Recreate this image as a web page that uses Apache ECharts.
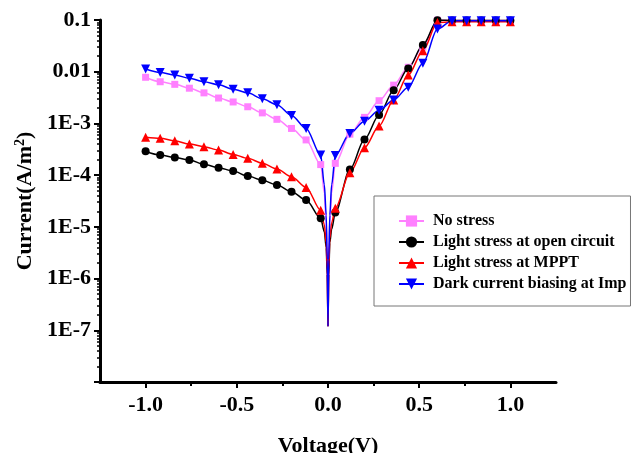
<!DOCTYPE html>
<html>
<head>
<meta charset="utf-8">
<script src="https://cdn.jsdelivr.net/npm/echarts@6/dist/echarts.min.js"></script>
<style>
html,body{margin:0;padding:0;background:#fff;}
#chart{width:632px;height:453px;}
</style>
</head>
<body>
<div id="chart"></div>
<script>
// Voltage grid of measured points (V)
var voltage = [-1.00,-0.92,-0.84,-0.76,-0.68,-0.60,-0.52,-0.44,-0.36,-0.28,-0.20,-0.12,-0.04,
               0.04,0.12,0.20,0.28,0.36,0.44,0.52,0.60,0.68,0.76,0.84,0.92,1.00];
// Currents (A/m^2)
var noStress    = [7.8e-3,6.4e-3,5.7e-3,4.8e-3,3.9e-3,3.1e-3,2.6e-3,2.1e-3,1.6e-3,1.2e-3,8.0e-4,4.8e-4,1.6e-4,
                   1.69e-4,6.2e-4,1.31e-3,2.75e-3,5.5e-3,1.22e-2,3.0e-2,0.099,0.098,0.098,0.098,0.098,0.098];
var openCircuit = [2.9e-4,2.45e-4,2.2e-4,1.96e-4,1.62e-4,1.39e-4,1.2e-4,9.6e-5,8.0e-5,6.45e-5,4.8e-5,3.3e-5,1.46e-5,
                   1.9e-5,1.29e-4,4.9e-4,1.46e-3,4.4e-3,1.16e-2,3.28e-2,0.099,0.098,0.098,0.098,0.098,0.098];
var mppt        = [5.4e-4,5.15e-4,4.6e-4,4.0e-4,3.55e-4,3.05e-4,2.52e-4,2.11e-4,1.7e-4,1.32e-4,9.3e-5,5.8e-5,2.1e-5,
                   2.3e-5,1.11e-4,3.39e-4,8.9e-4,2.84e-3,8.6e-3,2.55e-2,0.089,0.092,0.092,0.092,0.092,0.092];
var darkImp     = [1.13e-2,9.7e-3,8.6e-3,7.5e-3,6.4e-3,5.6e-3,4.6e-3,3.9e-3,3.0e-3,2.3e-3,1.43e-3,8.0e-4,2.45e-4,
                   2.4e-4,6.4e-4,1.1e-3,1.8e-3,2.84e-3,5.0e-3,1.45e-2,0.067,0.097,0.097,0.097,0.097,0.097];
// Line-only points of the dip around 0 V (no markers)
var dipVoltage     = [-0.02,-0.01,-0.004,0,0.004,0.01,0.02];
var dipNoStress    = [4.5e-5,1.2e-5,2.0e-6,1.2e-7,2.0e-6,1.2e-5,4.5e-5];
var dipOpenCircuit = [8e-6,4e-6,1.2e-6,1.2e-7,1.2e-6,5e-6,9e-6];
var dipMppt        = [1.1e-5,5e-6,1.5e-6,1.2e-7,1.5e-6,6e-6,1.2e-5];
var dipDarkImp     = [6.5e-5,1.7e-5,2.3e-6,1.2e-7,2.3e-6,1.7e-5,6.5e-5];

var seriesNames = ['No stress','Light stress at open circuit','Light stress at MPPT','Dark current biasing at Imp'];
var xTickLabels = [-1.0,-0.5,0.0,0.5,1.0];
var xMinorTicks = [-0.75,-0.25,0.25,0.75];

function buildData(vals, dipVals){
  var pts = [];
  for (var i=0;i<voltage.length;i++) pts.push({value:[voltage[i], vals[i]]});
  for (var j=0;j<dipVoltage.length;j++) pts.push({value:[dipVoltage[j], dipVals[j]], symbol:'none'});
  pts.sort(function(a,b){return a.value[0]-b.value[0];});
  return pts;
}

// log-decade minor tick positions for overlay axis
var yMinor = [];
for (var e=-8;e<-1;e++){ for (var k=2;k<=9;k++){ yMinor.push(e+Math.log10(k)); } }

var FONT = 'Liberation Serif';
var chart = echarts.init(document.getElementById('chart'), null, {renderer:'canvas'});

function mk(name, color, symbol, size, vals, dips){
  return {
    name:name, type:'line', xAxisIndex:0, yAxisIndex:0,
    data: buildData(vals, dips),
    symbol:symbol, symbolSize:size,
    smooth:0.3, smoothMonotone:'x',
    lineStyle:{color:color, width:1.5},
    itemStyle:{color:color},
    clip:false
  };
}

var option = {
  animation:false,
  backgroundColor:'#fff',
  grid:{left:100, right:76, top:20, bottom:71, containLabel:false, outerBoundsMode:'none'},
  legend:{
    orient:'vertical', left:374, top:196,
    padding:[17,4,14,24], itemGap:5,
    itemWidth:25, itemHeight:14,
    borderColor:'#777', borderWidth:1,
    textStyle:{fontFamily:FONT, fontWeight:'bold', fontSize:16, color:'#000', padding:[0,0,0,4]},
    data:seriesNames
  },
  xAxis:[{
    type:'value', min:-1.25, max:1.25,
    name:'Voltage(V)', nameLocation:'middle', nameGap:53,
    nameTextStyle:{fontFamily:FONT, fontWeight:'bold', fontSize:22, color:'#000'},
    axisLine:{show:true, onZero:false, lineStyle:{color:'#000', width:3}},
    axisTick:{show:true, length:6, lineStyle:{width:2, color:'#000'}, customValues:xTickLabels},
    axisLabel:{fontFamily:FONT, fontWeight:'bold', fontSize:22, color:'#000', margin:12,
      customValues:xTickLabels, formatter:function(v){return v.toFixed(1);}},
    splitLine:{show:false}
  },{
    type:'value', min:-1.25, max:1.25, position:'bottom',
    axisLine:{show:false, onZero:false}, axisLabel:{show:false}, splitLine:{show:false},
    axisTick:{show:true, length:4, lineStyle:{width:2, color:'#000'}, customValues:xMinorTicks}
  }],
  yAxis:[{
    type:'log', logBase:10, min:1e-8, max:0.1,
    name:'Current(A/m{sup|2})', nameLocation:'middle', nameGap:60,
    nameTextStyle:{fontFamily:FONT, fontWeight:'bold', fontSize:22, color:'#000',
      rich:{sup:{fontFamily:FONT, fontWeight:'bold', fontSize:14, color:'#000', verticalAlign:'top', padding:[0,0,10,0]}}},
    axisLine:{show:true, onZero:false, lineStyle:{color:'#000', width:3}},
    axisTick:{show:true, length:6, lineStyle:{width:2, color:'#000'}},
    axisLabel:{fontFamily:FONT, fontWeight:'bold', fontSize:22, color:'#000', margin:9,
      formatter:function(v){
        var ex = Math.round(Math.log10(v));
        if (ex === -1) return '0.1';
        if (ex === -2) return '0.01';
        if (ex < -7) return '';
        return '1E' + ex;
      }},
    splitLine:{show:false}, minorTick:{show:false}
  },{
    type:'value', min:-8, max:-1, position:'left',
    axisLine:{show:false, onZero:false}, axisLabel:{show:false}, splitLine:{show:false},
    axisTick:{show:true, length:3, lineStyle:{width:1.5, color:'#000'}, customValues:yMinor}
  }],
  series:[
    mk(seriesNames[0], '#FF80FF', 'rect', 7, noStress, dipNoStress),
    mk(seriesNames[1], '#000000', 'circle', 8, openCircuit, dipOpenCircuit),
    mk(seriesNames[2], '#FF0000', 'triangle', 9, mppt, dipMppt),
    mk(seriesNames[3], '#0000FF', 'path://M0,0 L10,0 L5,9 Z', 9, darkImp, dipDarkImp)
  ]
};
chart.setOption(option);
</script>
</body>
</html>
